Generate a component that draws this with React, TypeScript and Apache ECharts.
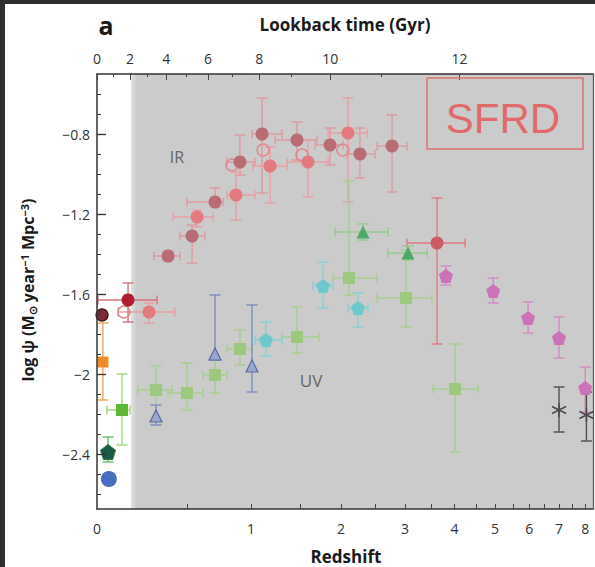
import React, { useEffect, useRef } from 'react';
import * as echarts from 'echarts';

// rows: [z, zLow, zHigh, logPsi, logPsiLow, logPsiHigh]
const irDark = [
  [0.377, 0.292, 0.453, -1.41, -1.435, -1.385],
  [0.534, 0.453, 0.626, -1.31, -1.445, -1.255],
  [0.701, 0.499, 0.764, -1.14, -1.165, -1.07],
  [0.903, 0.795, 1.036, -0.94, -1.005, -0.805],
  [1.102, 1.009, 1.3, -0.8, -1.095, -0.62],
  [1.46, 1.228, 1.692, -0.83, -0.93, -0.74],
  [1.854, 1.669, 2.027, -0.855, -0.955, -0.77],
  [2.266, 2.082, 2.494, -0.9, -1.02, -0.77],
  [2.773, 2.527, 3.036, -0.86, -1.09, -0.705],
];
const irHighZ = [[3.62, 3.036, 4.24, -1.345, -1.85, -1.12]];
const irLight = [
  [0.264, 0.099, 0.42, -1.69, -1.745, -1.645],
  [0.569, 0.408, 0.686, -1.215, -1.265, -1.18],
  [0.869, 0.795, 1.036, -1.105, -1.23, -0.99],
  [1.179, 1.018, 1.353, -0.96, -1.145, -0.865],
  [1.585, 1.353, 1.829, -0.94, -1.115, -0.83],
  [2.095, 1.829, 2.372, -0.795, -1.14, -0.62],
];
const irOpen = [
  [0.129, 0.129, 0.129, -1.69, -1.69, -1.69],
  [0.836, 0.836, 0.836, -0.955, -0.955, -0.955],
  [1.112, 1.112, 1.112, -0.88, -0.88, -0.88],
  [1.516, 1.516, 1.516, -0.905, -0.905, -0.905],
  [2.025, 2.025, 2.025, -0.88, -0.88, -0.88],
];
const localRed = [[0.15, 0.0045, 0.31, -1.63, -1.74, -1.545]];
const localMaroon = [[0.023, 0.023, 0.023, -1.705, -1.705, -1.705]];
const localOrange = [[0.027, 0.027, 0.027, -1.94, -2.13, -1.745]];
const localGreen = [[0.119, 0.046, 0.16, -2.18, -2.355, -2.0]];
const localTeal = [[0.051, 0.051, 0.051, -2.39, -2.44, -2.315]];
const localBlue = [[0.055, 0.055, 0.055, -2.525, -2.525, -2.525]];
const uvSquares = [
  [0.304, 0.203, 0.402, -2.08, -2.215, -1.96],
  [0.499, 0.377, 0.611, -2.095, -2.18, -1.945],
  [0.701, 0.611, 0.795, -2.005, -2.095, -1.93],
  [0.903, 0.795, 1.009, -1.875, -1.955, -1.78],
  [1.46, 1.3, 1.716, -1.815, -1.895, -1.665],
  [2.109, 1.893, 2.527, -1.52, -1.605, -1.035],
  [3.018, 2.527, 3.517, -1.62, -1.765, -1.38],
  [4.01, 3.537, 4.555, -2.075, -2.39, -1.85],
];
const uvTriangles = [
  [2.311, 1.919, 2.706, -1.29, -1.33, -1.25],
  [3.054, 2.706, 3.416, -1.395, -1.43, -1.36],
];
const uvBlueTri = [
  [0.304, 0.304, 0.304, -2.21, -2.255, -2.155],
  [0.701, 0.701, 0.701, -1.9, -1.93, -1.605],
  [1.009, 1.009, 1.009, -1.96, -2.09, -1.655],
];
const uvCyan = [
  [1.139, 1.036, 1.3, -1.83, -1.91, -1.74],
  [1.766, 1.644, 1.893, -1.56, -1.67, -1.44],
  [2.237, 2.095, 2.386, -1.67, -1.765, -1.595],
];
const uvMagenta = [
  [3.81, 3.81, 3.81, -1.51, -1.555, -1.46],
  [4.95, 4.95, 4.95, -1.585, -1.645, -1.52],
  [5.96, 5.96, 5.96, -1.72, -1.795, -1.64],
  [7.0, 7.0, 7.0, -1.82, -1.92, -1.715],
  [8.0, 8.0, 8.0, -2.07, -2.19, -1.965],
];
const uvGray = [
  [7.0, 7.0, 7.0, -2.18, -2.29, -2.065],
  [8.05, 8.05, 8.05, -2.205, -2.335, -2.09],
];

const redshiftLabels = [0, 1, 2, 3, 4, 5, 6, 7, 8];
const redshiftTicks = [0.5, 1, 1.5, 2, 2.5, 3, 3.5, 4, 4.5, 5, 5.5, 6, 6.5, 7, 7.5, 8];
const lookbackLabels = [0, 2, 4, 6, 8, 10, 12];
const lookbackMinor = [1, 3, 5, 7, 9, 11];
const yMajor = [-2.4, -2, -1.6, -1.2, -0.8];
const yMinor = [-2.6, -2.5, -2.3, -2.2, -2.1, -1.9, -1.8, -1.7, -1.5, -1.4, -1.3, -1.1, -1.0, -0.9, -0.7, -0.6];

const X_MAX = 0.9695;
const Y_MIN = -2.675;
const Y_MAX = -0.5;
const SHADE_Z = 0.165;

const lx = (z: number) => Math.log10(1 + z);

// lookback time in flat LCDM (H0=70, Om=0.3)
function lookbackGyr(z: number) {
  const tH = 977.8 / 70;
  const n = 400;
  const h = z / n;
  const f = (x: number) => 1 / ((1 + x) * Math.sqrt(0.3 * Math.pow(1 + x, 3) + 0.7));
  let s = 0;
  for (let i = 0; i <= n; i++) {
    const w = i === 0 || i === n ? 1 : i % 2 ? 4 : 2;
    s += w * f(i * h);
  }
  return (tH * s * h) / 3;
}
function zAtLookback(t: number) {
  let lo = 0, hi = 30;
  for (let i = 0; i < 60; i++) {
    const mid = (lo + hi) / 2;
    if (lookbackGyr(mid) < t) lo = mid; else hi = mid;
  }
  return (lo + hi) / 2;
}

const nearest = (arr: number[], v: number) => {
  let bi = 0;
  arr.forEach((a, i) => { if (Math.abs(a - v) < Math.abs(arr[bi] - v)) bi = i; });
  return bi;
};

const FONT = 'Open Sans';

function errSeries(rows: number[][], color: string) {
  return {
    type: 'custom',
    silent: true,
    z: 3,
    xAxisIndex: 0,
    yAxisIndex: 0,
    data: rows.map((r) => [lx(r[0]), lx(r[1]), lx(r[2]), r[3], r[4], r[5]]),
    renderItem: (params: any, api: any) => {
      const x = api.value(0), xl = api.value(1), xh = api.value(2);
      const y = api.value(3), yl = api.value(4), yh = api.value(5);
      const c = api.coord([x, y]);
      const st = { stroke: color, lineWidth: 1.4, fill: null };
      const ch: any[] = [];
      if (xh - xl > 1e-9) {
        const a = api.coord([xl, y]);
        const b = api.coord([xh, y]);
        ch.push({ type: 'line', shape: { x1: a[0], y1: c[1], x2: b[0], y2: c[1] }, style: st });
        ch.push({ type: 'line', shape: { x1: a[0], y1: c[1] - 4.5, x2: a[0], y2: c[1] + 4.5 }, style: st });
        ch.push({ type: 'line', shape: { x1: b[0], y1: c[1] - 4.5, x2: b[0], y2: c[1] + 4.5 }, style: st });
      }
      if (yh - yl > 1e-9) {
        const a = api.coord([x, yl]);
        const b = api.coord([x, yh]);
        ch.push({ type: 'line', shape: { x1: c[0], y1: a[1], x2: c[0], y2: b[1] }, style: st });
        ch.push({ type: 'line', shape: { x1: c[0] - 5.5, y1: a[1], x2: c[0] + 5.5, y2: a[1] }, style: st });
        ch.push({ type: 'line', shape: { x1: c[0] - 5.5, y1: b[1], x2: c[0] + 5.5, y2: b[1] }, style: st });
      }
      return { type: 'group', children: ch };
    },
  };
}

function markers(rows: number[][], symbol: string, size: number, color: string, border = 'transparent', bw = 0) {
  return {
    type: 'scatter',
    silent: true,
    z: 4,
    xAxisIndex: 0,
    yAxisIndex: 0,
    symbol,
    symbolSize: size,
    itemStyle: { color, borderColor: border, borderWidth: bw, opacity: 1 },
    data: rows.map((r) => [lx(r[0]), r[3]]),
  };
}

const PENTA = 'path://M0,-1 L0.951,-0.309 L0.588,0.809 L-0.588,0.809 L-0.951,-0.309 Z';
const STAR = 'path://M0,-1 L0,1 M-0.87,-0.5 L0.87,0.5 M-0.87,0.5 L0.87,-0.5';

export default function App() {
  const ref = useRef<HTMLDivElement>(null);
  useEffect(() => {
    const chart = echarts.init(ref.current!, null, { renderer: 'svg' });
    const topLabelZ = lookbackLabels.map((t) => lx(zAtLookback(t)));
    const topMinorZ = lookbackMinor.map((t) => lx(zAtLookback(t)));
    const botLabelX = redshiftLabels.map(lx);
    const axisLine = { show: true, onZero: false, lineStyle: { color: '#333', width: 1.5 } };
    const labelStyle = { color: '#333', fontSize: 14, fontFamily: FONT };

    const option: any = {
      animation: false,
      backgroundColor: '#ffffff',
      grid: { left: 97, top: 74, width: 496, height: 435, containLabel: false },
      xAxis: [
        {
          type: 'value', position: 'bottom', min: 0, max: X_MAX, z: 6,
          axisLine,
          splitLine: { show: false },
          axisTick: { show: true, inside: true, length: 5, customValues: redshiftTicks.map(lx), lineStyle: { color: '#444', width: 1 } },
          axisLabel: {
            ...labelStyle, margin: 12, customValues: botLabelX,
            formatter: (v: number) => String(redshiftLabels[nearest(botLabelX, v)]),
          },
        },
        {
          type: 'value', position: 'top', min: 0, max: X_MAX, z: 6,
          axisLine,
          splitLine: { show: false },
          axisTick: { show: true, inside: true, length: 6, customValues: topLabelZ, lineStyle: { color: '#444', width: 1 } },
          axisLabel: {
            ...labelStyle, margin: 9, customValues: topLabelZ,
            formatter: (v: number) => String(lookbackLabels[nearest(topLabelZ, v)]),
          },
        },
        {
          type: 'value', position: 'top', min: 0, max: X_MAX, z: 6,
          axisLine: { show: false },
          splitLine: { show: false },
          axisTick: { show: true, inside: true, length: 3, customValues: topMinorZ, lineStyle: { color: '#444', width: 1 } },
          axisLabel: { show: false },
        },
      ],
      yAxis: [
        {
          type: 'value', position: 'left', min: Y_MIN, max: Y_MAX, z: 6,
          axisLine,
          splitLine: { show: false },
          axisTick: { show: true, inside: true, length: 9, customValues: yMajor, lineStyle: { color: '#333', width: 1.3 } },
          axisLabel: {
            ...labelStyle, margin: 7, customValues: yMajor,
            formatter: (v: number) => (v < 0 ? '\u2212' : '') + String(Math.abs(Math.round(v * 10) / 10)),
          },
        },
        {
          type: 'value', position: 'left', min: Y_MIN, max: Y_MAX, z: 6,
          axisLine: { show: false },
          splitLine: { show: false },
          axisTick: { show: true, inside: true, length: 4, customValues: yMinor, lineStyle: { color: '#333', width: 1 } },
          axisLabel: { show: false },
        },
        {
          type: 'value', position: 'right', min: Y_MIN, max: Y_MAX, z: 6,
          axisLine: { show: true, onZero: false, lineStyle: { color: '#555', width: 1.2 } },
          splitLine: { show: false },
          axisTick: { show: false },
          axisLabel: { show: false },
        },
      ],
      series: [
        {
          type: 'scatter', data: [], silent: true, z: 1,
          markArea: {
            silent: true,
            itemStyle: {
              color: new echarts.graphic.LinearGradient(0, 0, 1, 0, [
                { offset: 0, color: '#e4e4e4' },
                { offset: 0.012, color: '#cbcbcb' },
                { offset: 1, color: '#cbcbcb' },
              ]),
            },
            data: [[{ xAxis: lx(SHADE_Z) }, { xAxis: X_MAX }]],
          },
        },
        errSeries(irDark, '#e09aa0'),
        errSeries(irLight, '#e9a0a4'),
        errSeries(irHighZ, '#e07a80'),
        errSeries(localRed, '#d8707c'),
        errSeries(localOrange, '#f2a257'),
        errSeries(localGreen, '#9ed67a'),
        errSeries(localTeal, '#6cbc6c'),
        errSeries(uvSquares, '#a6d08c'),
        errSeries(uvTriangles, '#94cc8c'),
        errSeries(uvBlueTri, '#7c8cc0'),
        errSeries(uvCyan, '#86d2d2'),
        errSeries(uvMagenta, '#d68ac4'),
        errSeries(uvGray, '#505050'),
        markers(irOpen, 'circle', 12, 'transparent', '#e08a8e', 1.5),
        markers(irDark, 'circle', 13, '#b86c74'),
        markers(irLight, 'circle', 13, '#e27a80'),
        markers(irHighZ, 'circle', 13, '#cc5c64'),
        markers(localRed, 'circle', 13, '#b01c30'),
        markers(localMaroon, 'circle', 12, '#7a2a38', '#3a1018', 1.2),
        markers(localOrange, 'rect', 11, '#f08a28'),
        markers(localGreen, 'rect', 12, '#5cb836'),
        markers(localTeal, PENTA, 15, '#1c5a48', '#2f7a3a', 1),
        markers(localBlue, 'circle', 16, '#4a6cc0'),
        markers(uvSquares, 'rect', 12, '#9cc880'),
        markers(uvTriangles, 'triangle', 13, '#52a86a'),
        markers(uvBlueTri, 'triangle', 12, '#9aa8d0', '#5a6aa0', 1.2),
        markers(uvCyan, PENTA, 14, '#6cc8cc'),
        markers(uvMagenta, PENTA, 14, '#cc72b8'),
        markers(uvGray, STAR, 14, 'transparent', '#4a4a4a', 1.5),
      ],
      graphic: [
        { type: 'rect', silent: true, shape: { x: 0, y: 0, width: 595, height: 4 }, style: { fill: '#2e2e2e' }, z: 100 },
        { type: 'rect', silent: true, shape: { x: 0, y: 0, width: 5, height: 567 }, style: { fill: '#2e2e2e' }, z: 100 },
        { type: 'text', silent: true, x: 106, y: 25, style: { text: 'a', fontSize: 25, fontWeight: 'bold', fontFamily: FONT, fill: '#1a1a1a', align: 'center', verticalAlign: 'middle' } },
        { type: 'text', silent: true, x: 345, y: 24, style: { text: 'Lookback time (Gyr)', fontSize: 17, fontWeight: 'bold', fontFamily: FONT, fill: '#1a1a1a', align: 'center', verticalAlign: 'middle' } },
        { type: 'text', silent: true, x: 346, y: 556, style: { text: 'Redshift', fontSize: 17, fontWeight: 'bold', fontFamily: FONT, fill: '#1a1a1a', align: 'center', verticalAlign: 'middle' } },
        {
          type: 'text', silent: true, x: 28, y: 290, rotation: Math.PI / 2,
          style: {
            text: 'log \u03C8 (M{sub|\u2299} year{sup|\u22121} Mpc{sup|\u22123})',
            fontSize: 16, fontWeight: 'bold', fontFamily: FONT, fill: '#1a1a1a', align: 'center', verticalAlign: 'middle',
            rich: {
              sub: { fontSize: 11, fontWeight: 'bold', fontFamily: FONT, fill: '#1a1a1a', padding: [8, 0, 0, 0] },
              sup: { fontSize: 11, fontWeight: 'bold', fontFamily: FONT, fill: '#1a1a1a', padding: [0, 0, 8, 0] },
            },
          },
        },
        { type: 'text', silent: true, x: 177, y: 157, style: { text: 'IR', fontSize: 16, fontFamily: FONT, fill: '#666', align: 'center', verticalAlign: 'middle' }, z: 50 },
        { type: 'text', silent: true, x: 311, y: 380, style: { text: 'UV', fontSize: 17, fontFamily: FONT, fill: '#666', align: 'center', verticalAlign: 'middle' }, z: 50 },
        { type: 'rect', silent: true, shape: { x: 427, y: 78, width: 156, height: 71 }, style: { fill: 'none', stroke: '#e07272', lineWidth: 1.5 }, z: 50 },
        { type: 'text', silent: true, x: 503, y: 118, style: { text: 'SFRD', fontSize: 42, fontFamily: 'Liberation Sans', fill: '#e06a6a', align: 'center', verticalAlign: 'middle' }, z: 50 },
      ],
    };
    chart.setOption(option);
    return () => chart.dispose();
  }, []);
  return <div ref={ref} style={{ position: 'fixed', left: 0, top: 0, width: 595, height: 567, background: '#fff' }} />;
}
